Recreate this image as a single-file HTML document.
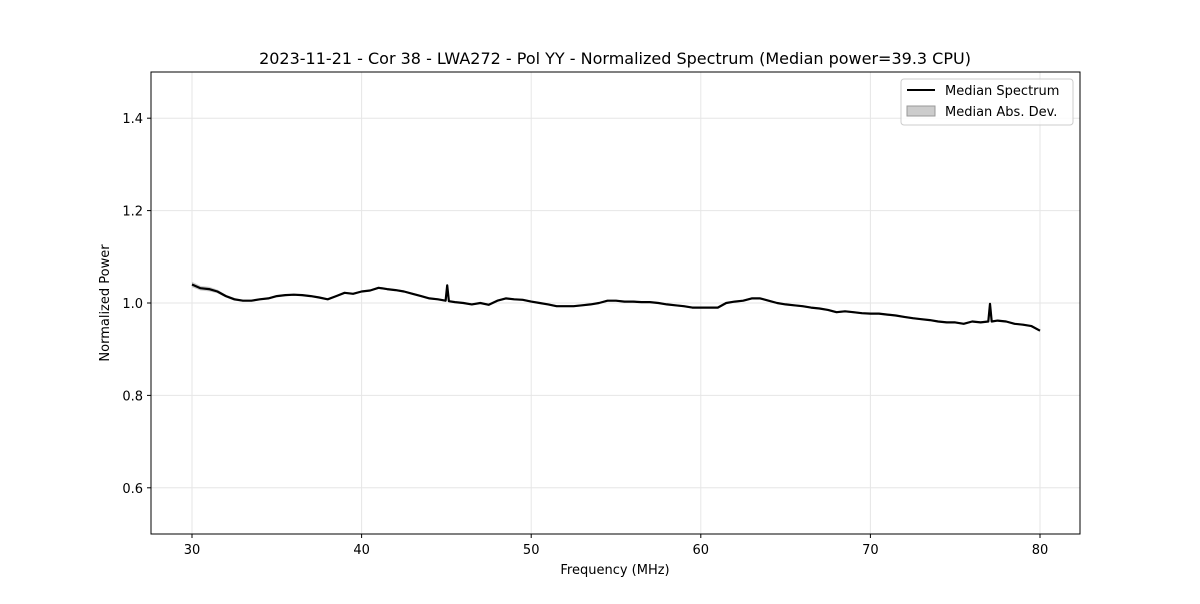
<!DOCTYPE html>
<html><head><meta charset="utf-8"><style>
body{margin:0;background:#fff;font-family:"DejaVu Sans","Liberation Sans",sans-serif}
svg text{font-family:"DejaVu Sans","Liberation Sans",sans-serif}
</style></head><body>
<svg width="1200" height="600" viewBox="0 0 1200 600" xmlns="http://www.w3.org/2000/svg">
<text x="615" y="64" text-anchor="middle" font-size="16">2023-11-21 - Cor 38 - LWA272 - Pol YY - Normalized Spectrum (Median power=39.3 CPU)</text>
<g id="grid"></g>
<path id="band" fill="#999" fill-opacity="0.5" stroke="none"/>
<path id="line" fill="none" stroke="#000" stroke-width="2.2" stroke-linejoin="round"/>
<rect x="151" y="72" width="929" height="462" fill="none" stroke="#000" stroke-width="1"/>
<g id="ticks" font-size="13"></g>
<text x="615" y="574" text-anchor="middle" font-size="13">Frequency (MHz)</text>
<text x="109" y="303" text-anchor="middle" font-size="13" transform="rotate(-90 109 303)">Normalized Power</text>
<g>
<rect x="901" y="79" width="172" height="46" rx="3" fill="#fff" fill-opacity="0.8" stroke="#ccc"/>
<line x1="907" y1="90" x2="935" y2="90" stroke="#000" stroke-width="2"/>
<text x="945" y="95" font-size="13">Median Spectrum</text>
<rect x="907" y="106" width="28" height="10" fill="#999" fill-opacity="0.5" stroke="#999"/>
<text x="945" y="116" font-size="13">Median Abs. Dev.</text>
</g>
</svg>
<script>
const freqs=[30,30.5,31,31.5,32,32.5,33,33.5,34,34.5,35,35.5,36,36.5,37,37.5,38,38.5,39,39.5,40,40.5,41,41.5,42,42.5,43,43.5,44,44.5,44.95,45.05,45.15,45.5,46,46.5,47,47.5,48,48.5,49,49.5,50,50.5,51,51.5,52,52.5,53,53.5,54,54.5,55,55.5,56,56.5,57,57.5,58,58.5,59,59.5,60,60.5,61,61.5,62,62.5,63,63.5,64,64.5,65,65.5,66,66.5,67,67.5,68,68.5,69,69.5,70,70.5,71,71.5,72,72.5,73,73.5,74,74.5,75,75.5,76,76.5,76.95,77.05,77.15,77.5,78,78.5,79,79.5,80];
const power=[1.04,1.032,1.03,1.025,1.015,1.008,1.005,1.005,1.008,1.01,1.015,1.017,1.018,1.017,1.015,1.012,1.008,1.015,1.022,1.02,1.025,1.027,1.033,1.03,1.028,1.025,1.02,1.015,1.01,1.008,1.005,1.038,1.004,1.002,1.0,0.997,1.0,0.996,1.005,1.01,1.008,1.007,1.003,1.0,0.997,0.993,0.993,0.993,0.995,0.997,1.0,1.005,1.005,1.003,1.003,1.002,1.002,1.0,0.997,0.995,0.993,0.99,0.99,0.99,0.99,1.0,1.003,1.005,1.01,1.01,1.005,1.0,0.997,0.995,0.993,0.99,0.988,0.985,0.98,0.982,0.98,0.978,0.977,0.977,0.975,0.973,0.97,0.967,0.965,0.963,0.96,0.958,0.958,0.955,0.96,0.958,0.96,0.998,0.96,0.962,0.96,0.955,0.953,0.95,0.94];
const dev=[0.006,0.005,0.005,0.004,0.003,0.003,0.002,0.002,0.002,0.002,0.002,0.002,0.002,0.002,0.002,0.002,0.002,0.002,0.002,0.002,0.002,0.002,0.002,0.002,0.002,0.002,0.002,0.002,0.002,0.002,0.002,0.002,0.002,0.002,0.002,0.002,0.002,0.002,0.002,0.002,0.002,0.002,0.002,0.002,0.002,0.002,0.002,0.002,0.002,0.002,0.002,0.002,0.002,0.002,0.002,0.002,0.002,0.002,0.002,0.002,0.002,0.002,0.002,0.002,0.002,0.002,0.002,0.002,0.002,0.002,0.002,0.002,0.002,0.002,0.002,0.002,0.002,0.002,0.002,0.002,0.002,0.002,0.002,0.002,0.002,0.002,0.002,0.002,0.002,0.002,0.002,0.002,0.002,0.002,0.002,0.002,0.002,0.002,0.002,0.002,0.002,0.002,0.002,0.002,0.002];
const xTicks=[30,40,50,60,70,80];
const yTicks=[0.6,0.8,1.0,1.2,1.4];
const X=f=>192+(f-30)*(1040-192)/50;
const Y=v=>534-(v-0.5)*462;
const NS="http://www.w3.org/2000/svg";
const grid=document.getElementById('grid'),ticks=document.getElementById('ticks');
function mk(tag,attrs,parent){const e=document.createElementNS(NS,tag);for(const k in attrs)e.setAttribute(k,attrs[k]);parent.appendChild(e);return e;}
xTicks.forEach(t=>{
 const g=mk('line',{x1:X(t),x2:X(t),y1:72,y2:534,stroke:'#e6e6e6'},grid);
 
 
 mk('line',{x1:X(t),x2:X(t),y1:534,y2:538,stroke:'#000'},ticks);
 const l=mk('text',{x:X(t),y:554,'text-anchor':'middle'},ticks);l.textContent=t;
 
 
});
yTicks.forEach(t=>{
 const g=mk('line',{x1:151,x2:1080,y1:Y(t),y2:Y(t),stroke:'#e6e6e6'},grid);
 
 
 mk('line',{x1:147,x2:151,y1:Y(t),y2:Y(t),stroke:'#000'},ticks);
 const l=mk('text',{x:143,y:Y(t)+5,'text-anchor':'end'},ticks);l.textContent=t.toFixed(1);
 
 
});
let d='';freqs.forEach((f,i)=>{d+=(i?'L':'M')+X(f).toFixed(1)+' '+Y(power[i]).toFixed(1);});
document.getElementById('line').setAttribute('d',d);
let b='';freqs.forEach((f,i)=>{b+=(i?'L':'M')+X(f).toFixed(1)+' '+Y(power[i]+dev[i]).toFixed(1);});
for(let i=freqs.length-1;i>=0;i--)b+='L'+X(freqs[i]).toFixed(1)+' '+Y(power[i]-dev[i]).toFixed(1);
document.getElementById('band').setAttribute('d',b+'Z');
</script>
</body></html>
